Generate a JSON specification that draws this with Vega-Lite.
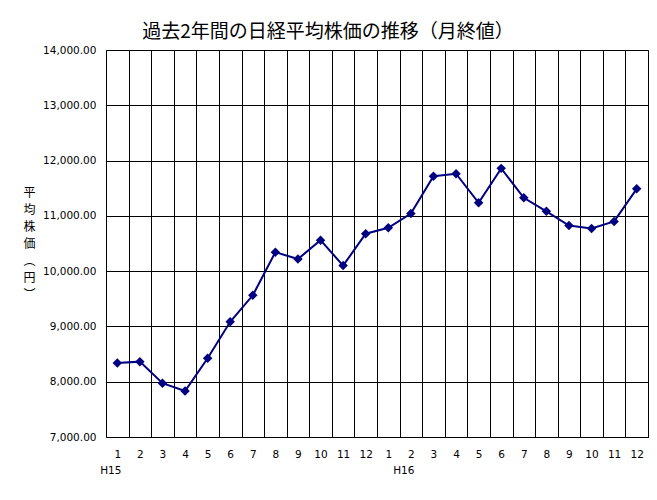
{
  "$schema": "https://vega.github.io/schema/vega-lite/v6.json",
  "autosize": "none",
  "width": 542,
  "height": 387,
  "padding": {"left": 106, "top": 50, "right": 9, "bottom": 63},
  "background": "white",
  "title": {
    "text": "過去2年間の日経平均株価の推移（月終値）",
    "font": "Noto Sans CJK JP",
    "fontSize": 19,
    "fontWeight": "normal",
    "color": "black",
    "anchor": "middle",
    "frame": "group",
    "dx": -49,
    "offset": 3
  },
  "config": {
    "view": {"stroke": "#808080", "strokeWidth": 1},
    "font": "DejaVu Sans"
  },
  "data": {
    "values": [
      {"idx": 1, "era": "H15", "month": 1, "value": 8339.94},
      {"idx": 2, "era": "H15", "month": 2, "value": 8363.04},
      {"idx": 3, "era": "H15", "month": 3, "value": 7972.71},
      {"idx": 4, "era": "H15", "month": 4, "value": 7831.42},
      {"idx": 5, "era": "H15", "month": 5, "value": 8424.51},
      {"idx": 6, "era": "H15", "month": 6, "value": 9083.11},
      {"idx": 7, "era": "H15", "month": 7, "value": 9563.21},
      {"idx": 8, "era": "H15", "month": 8, "value": 10343.55},
      {"idx": 9, "era": "H15", "month": 9, "value": 10219.05},
      {"idx": 10, "era": "H15", "month": 10, "value": 10559.59},
      {"idx": 11, "era": "H15", "month": 11, "value": 10100.57},
      {"idx": 12, "era": "H15", "month": 12, "value": 10676.64},
      {"idx": 13, "era": "H16", "month": 1, "value": 10783.61},
      {"idx": 14, "era": "H16", "month": 2, "value": 11041.92},
      {"idx": 15, "era": "H16", "month": 3, "value": 11715.39},
      {"idx": 16, "era": "H16", "month": 4, "value": 11761.79},
      {"idx": 17, "era": "H16", "month": 5, "value": 11236.37},
      {"idx": 18, "era": "H16", "month": 6, "value": 11858.87},
      {"idx": 19, "era": "H16", "month": 7, "value": 11325.78},
      {"idx": 20, "era": "H16", "month": 8, "value": 11081.79},
      {"idx": 21, "era": "H16", "month": 9, "value": 10823.57},
      {"idx": 22, "era": "H16", "month": 10, "value": 10771.42},
      {"idx": 23, "era": "H16", "month": 11, "value": 10899.25},
      {"idx": 24, "era": "H16", "month": 12, "value": 11488.76}
    ]
  },
  "layer": [
    {
      "mark": {"type": "line", "color": "#000080", "strokeWidth": 2},
      "encoding": {
        "x": {
          "field": "idx",
          "type": "quantitative",
          "scale": {"domain": [0.5, 24.5], "nice": false, "zero": false},
          "axis": {
            "orient": "bottom",
            "title": null,
            "values": [0.5, 1, 1.5, 2, 2.5, 3, 3.5, 4, 4.5, 5, 5.5, 6, 6.5, 7, 7.5, 8, 8.5, 9, 9.5, 10, 10.5, 11, 11.5, 12, 12.5, 13, 13.5, 14, 14.5, 15, 15.5, 16, 16.5, 17, 17.5, 18, 18.5, 19, 19.5, 20, 20.5, 21, 21.5, 22, 22.5, 23, 23.5, 24, 24.5],
            "grid": true,
            "gridColor": "black",
            "gridWidth": 1,
            "gridOpacity": {"condition": {"test": "datum.value % 1 === 0", "value": 0}, "value": 1},
            "ticks": false,
            "domain": true,
            "domainColor": "black",
            "domainWidth": 1,
            "labelOverlap": false,
            "labelFlush": false,
            "labelBound": false,
            "labelFont": "DejaVu Sans",
            "labelFontSize": 10.5,
            "labelColor": "black",
            "labelPadding": 12,
            "labelBaseline": "top",
            "labelExpr": "datum.value % 1 !== 0 ? '' : '' + ((datum.value - 1) % 12 + 1)"
          }
        },
        "y": {
          "field": "value",
          "type": "quantitative",
          "scale": {"domain": [7000, 14000], "nice": false, "zero": false},
          "axis": {
            "values": [7000, 8000, 9000, 10000, 11000, 12000, 13000, 14000],
            "format": ",.2f",
            "grid": true,
            "gridColor": "black",
            "gridWidth": 1,
            "gridOpacity": 1,
            "ticks": false,
            "domain": true,
            "domainColor": "black",
            "labelFont": "DejaVu Sans",
            "labelFontSize": 10.5,
            "labelColor": "black",
            "labelPadding": 10,
            "title": ["平", "均", "株", "価", "︵", "円", "︶"],
            "titleFont": "Noto Sans CJK JP",
            "titleFontSize": 12,
            "titleFontWeight": "normal",
            "titleColor": "black",
            "titleAngle": 0,
            "titleAlign": "center",
            "titleBaseline": "top",
            "titleLineHeight": 17,
            "titleX": -77,
            "titleY": 137
          }
        }
      }
    },
    {
      "mark": {"type": "point", "shape": "diamond", "filled": true, "color": "#000080", "opacity": 1, "size": 90},
      "encoding": {
        "x": {
          "field": "idx",
          "type": "quantitative",
          "axis": {
            "orient": "bottom",
            "title": null,
            "values": [1, 13],
            "grid": false,
            "ticks": false,
            "domain": false,
            "labelOverlap": false,
            "labelFlush": false,
            "labelBound": false,
            "labelFont": "DejaVu Sans",
            "labelFontSize": 10.5,
            "labelColor": "black",
            "labelPadding": 28,
            "labelBaseline": "top",
            "labelOffset": {"condition": {"test": "datum.value === 1", "value": -7}, "value": 15},
            "labelExpr": "datum.value === 1 ? 'H15' : 'H16'"
          }
        },
        "y": {"field": "value", "type": "quantitative"}
      }
    }
  ],
  "resolve": {"axis": {"x": "independent"}}
}
